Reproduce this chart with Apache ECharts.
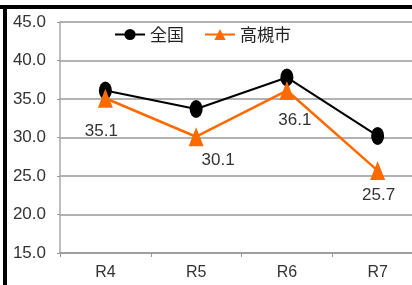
<!DOCTYPE html>
<html>
<head>
<meta charset="utf-8">
<script src="https://cdn.jsdelivr.net/npm/echarts@6/dist/echarts.min.js"></script>
<style>
  html, body { margin: 0; padding: 0; background: #fff; }
  #chart { width: 412px; height: 285px; }
</style>
</head>
<body>
<div id="chart"></div>
<script>
const categories = ['R4', 'R5', 'R6', 'R7']
const nationalName = '全国'
const nationalValues = [36.1, 33.7, 37.8, 30.2]
const takatsukiName = '高槻市'
const takatsukiValues = [35.1, 30.1, 36.1, 25.7]
const yTicks = { min: 15, max: 45, interval: 5 }

const font = '"Liberation Sans", Arial, sans-serif'
const cjkFont = '"Noto Sans CJK JP", sans-serif'
const orange = '#ff6a00'

// label nudges for the 高槻市 values, one per point
const labelOffsets = [[-4, 9], [22, 0], [8, 6], [1, 1]]

const chart = echarts.init(document.getElementById('chart'))
chart.setOption({
  animation: false,
  grid: { left: 60, width: 363, top: 22, bottom: 32, outerBoundsMode: 'none' },
  legend: {
    left: 109, top: 21,
    itemWidth: 30, itemHeight: 14, itemGap: 20,
    textStyle: { fontFamily: cjkFont, fontSize: 17, color: '#222' },
    data: [nationalName, takatsukiName]
  },
  xAxis: {
    type: 'category',
    data: categories,
    axisLine: { lineStyle: { color: '#999', width: 1.5 } },
    axisTick: { show: true, length: 4, lineStyle: { color: '#999' } },
    axisLabel: { fontFamily: font, fontSize: 16, color: '#333', margin: 12 }
  },
  yAxis: {
    type: 'value',
    min: yTicks.min, max: yTicks.max, interval: yTicks.interval,
    axisLine: { show: true, lineStyle: { color: '#aaa', width: 1.5 } },
    axisTick: { show: true, length: 3, lineStyle: { color: '#999' } },
    splitLine: { lineStyle: { color: '#999', width: 1.5 } },
    axisLabel: {
      fontFamily: font, fontSize: 17, color: '#333', margin: 14,
      formatter: v => v.toFixed(1)
    }
  },
  series: [
    {
      name: nationalName,
      type: 'line',
      data: nationalValues,
      symbol: 'circle',
      symbolSize: [13, 18],
      lineStyle: { color: '#000', width: 2 },
      itemStyle: { color: '#000' },
      z: 2
    },
    {
      name: takatsukiName,
      type: 'line',
      data: takatsukiValues.map((v, i) => ({
        value: v,
        label: { offset: labelOffsets[i] }
      })),
      symbol: 'triangle',
      symbolSize: [15, 19],
      lineStyle: { color: orange, width: 2.5 },
      itemStyle: { color: orange },
      label: {
        show: true, position: 'bottom', distance: 6,
        fontFamily: font, fontSize: 17, color: '#333',
        formatter: p => p.value.toFixed(1)
      },
      z: 3
    }
  ],
  graphic: [
    { type: 'rect', shape: { x: 0, y: 5, width: 412, height: 4 }, style: { fill: '#000' }, z: 100 },
    { type: 'rect', shape: { x: 3, y: 5, width: 4, height: 280 }, style: { fill: '#000' }, z: 100 }
  ]
})
</script>
</body>
</html>
